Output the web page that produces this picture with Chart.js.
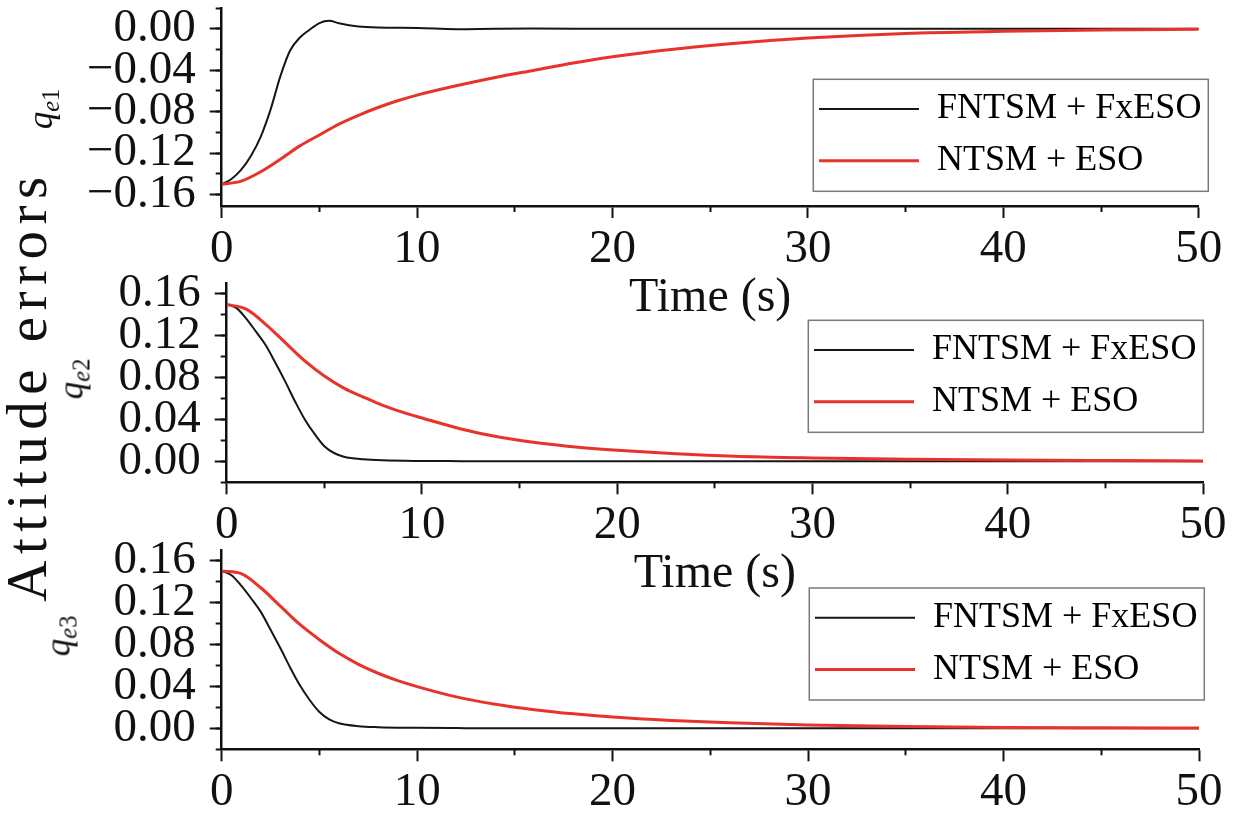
<!DOCTYPE html>
<html>
<head>
<meta charset="utf-8">
<title>Attitude errors</title>
<script src="https://cdn.jsdelivr.net/npm/chart.js@4"></script>
<style>
  html, body { margin: 0; padding: 0; background: #fff; }
  #fig { position: relative; width: 1239px; height: 818px; overflow: hidden; background: #fff; }
  .panel { position: absolute; left: 0; width: 1239px; }
  .vlabel {
    position: absolute; font-family: "Liberation Serif", serif; color: #111;
    white-space: nowrap; line-height: 1;
    transform: translate(-50%, -50%) rotate(-90deg);
  }
  .q sub { font-size: 70%; vertical-align: baseline; position: relative; top: 0.3em; }
</style>
</head>
<body>
<div id="fig">
  <div class="panel" style="top:0;height:327px"><canvas id="c1"></canvas></div>
  <div class="panel" style="top:270px;height:333.3px"><canvas id="c2"></canvas></div>
  <div class="panel" style="top:540px;height:278px"><canvas id="c3"></canvas></div>

  <div class="vlabel" style="left:26px;top:386px;font-size:57px;letter-spacing:6.5px">Attitude errors</div>
  <div class="vlabel q" style="left:40px;top:109px;font-size:35px"><i>q</i><sub><i>e</i>1</sub></div>
  <div class="vlabel q" style="left:71px;top:379px;font-size:35px"><i>q</i><sub><i>e</i>2</sub></div>
  <div class="vlabel q" style="left:58px;top:636px;font-size:35px"><i>q</i><sub><i>e</i>3</sub></div>
</div>

<script>
// time samples (s)
const timeBlack = [0, 0.5, 1, 1.5, 2, 2.5, 3, 3.5, 4, 4.5, 5, 5.5, 6, 7, 8, 10, 12, 14, 16, 20, 25, 30, 35, 40, 45, 50];
const timeRed = [0, 1, 2, 3, 4, 5, 6, 7, 8, 9, 10, 12, 14, 16, 18, 20, 23, 26, 30, 35, 40, 45, 50];

const seriesLabels = ['FNTSM + FxESO', 'NTSM + ESO'];

// q_e1
const qe1Fntsm = [-0.150, -0.145, -0.136, -0.1225, -0.104, -0.078, -0.046, -0.021, -0.0085, -0.001, 0.0055, 0.0078, 0.0053,
  0.0022, 0.0012, 0.0008, -0.0004, 0, 0.0002, 0, 0, 0, 0, 0, 0, 0];
const qe1Ntsm = [-0.150, -0.147, -0.138, -0.126, -0.113, -0.1025, -0.092, -0.0835, -0.076, -0.0695, -0.064, -0.055,
  -0.047, -0.040, -0.033, -0.027, -0.020, -0.0145, -0.009, -0.0045, -0.0025, -0.0012, -0.0006];

// q_e2
const qe2Fntsm = [0.150, 0.1465, 0.1365, 0.124, 0.111, 0.094, 0.0762, 0.0573, 0.040, 0.0262, 0.0145, 0.008, 0.0045,
  0.002, 0.001, 0.0004, 0.0002, 0, 0, 0, 0, 0, 0, 0, 0, 0];
const qe2Ntsm = [0.150, 0.1455, 0.131, 0.1135, 0.096, 0.0815, 0.070, 0.0615, 0.0535, 0.047, 0.0415, 0.031,
  0.023, 0.0175, 0.0135, 0.0106, 0.0073, 0.0049, 0.0033, 0.0021, 0.0013, 0.0008, 0.0004];

// q_e3
const qe3Fntsm = [0.150, 0.146, 0.136, 0.124, 0.111, 0.094, 0.0765, 0.058, 0.041, 0.027, 0.0155, 0.0085, 0.0048,
  0.002, 0.0011, 0.0005, 0.0002, 0, 0, 0, 0, 0, 0, 0, 0, 0];
const qe3Ntsm = [0.150, 0.1475, 0.134, 0.1165, 0.099, 0.0845, 0.0715, 0.061, 0.0525, 0.0455, 0.0398, 0.030,
  0.023, 0.0178, 0.0138, 0.0107, 0.0075, 0.0052, 0.0032, 0.0017, 0.0009, 0.0005, 0.0002];

// ticks
const xMajor = [0, 10, 20, 30, 40, 50];
const xMinor = [5, 15, 25, 35, 45];
const yMajorNeg = [-0.16, -0.12, -0.08, -0.04, 0];
const yMinorNeg = [-0.16, -0.14, -0.12, -0.10, -0.08, -0.06, -0.04, -0.02, 0, 0.02];
const yMajorPos = [0, 0.04, 0.08, 0.12, 0.16];
const yMinorPos = [-0.02, 0, 0.02, 0.04, 0.06, 0.08, 0.10, 0.12, 0.14, 0.16];

const INK = '#111';
const BLACK = '#161616';
const RED = '#e8332b';
const SERIF = '"Liberation Serif", "Times New Roman", serif';

// per panel layout
const panels = [
  { id: 'c1', fntsm: qe1Fntsm, ntsm: qe1Ntsm, yMin: -0.171, yMax: 0.02, yMajor: yMajorNeg, yMinor: yMinorNeg,
    xTitle: true, top: 8, right: 40.3, yWidth: 221.7, xHeight: 121, legend: { dx: -395.4, dy: 67.3 } },
  { id: 'c2', fntsm: qe2Fntsm, ntsm: qe2Ntsm, yMin: -0.02, yMax: 0.17, yMajor: yMajorPos, yMinor: yMinorPos,
    xTitle: true, top: 13.5, right: 36, yWidth: 226.7, xHeight: 121, legend: { dx: -404.7, dy: 32.8 } },
  { id: 'c3', fntsm: qe3Fntsm, ntsm: qe3Ntsm, yMin: -0.02, yMax: 0.17, yMajor: yMajorPos, yMinor: yMinorPos,
    xTitle: false, top: 10, right: 40, yWidth: 221.7, xHeight: 68.7, legend: { dx: -399.7, dy: 34 } }
];

function fmtY(v) {
  if (Math.abs(v) < 1e-9) return '0.00';
  return (v < 0 ? '\u2212' : '') + Math.abs(v).toFixed(2);
}

// moves the legend into the plot and draws its frame
const legendPlace = {
  id: 'legendPlace',
  afterLayout(chart, args, opts) {
    const lg = chart.legend, ca = chart.chartArea;
    lg.left = ca.right + opts.dx;
    lg.top = ca.top + opts.dy;
    lg.right = lg.left + 420;
    lg.bottom = lg.top + 200;
  },
  afterDraw(chart, args, opts) {
    const lg = chart.legend, c = chart.ctx;
    c.save();
    c.strokeStyle = '#7a7a7a';
    c.lineWidth = 1.5;
    c.strokeRect(lg.left + 10, lg.top + 4, 395, 112);
    c.restore();
  }
};

function tickGrid(len) {
  return { display: true, drawOnChartArea: false, drawTicks: true, tickLength: len, tickWidth: 2, tickColor: INK };
}

function buildChart(p) {
  const tickFont = { family: SERIF, size: 47, lineHeight: 1 };
  return new Chart(document.getElementById(p.id), {
    type: 'line',
    data: {
      datasets: [
        { label: seriesLabels[0], data: timeBlack.map((t, i) => ({ x: t, y: p.fntsm[i] })),
          borderColor: BLACK, backgroundColor: BLACK, borderWidth: 2, order: 1, xAxisID: 'x', yAxisID: 'y' },
        { label: seriesLabels[1], data: timeRed.map((t, i) => ({ x: t, y: p.ntsm[i] })),
          borderColor: RED, backgroundColor: RED, borderWidth: 3, order: 0, xAxisID: 'x', yAxisID: 'y' }
      ]
    },
    options: {
      responsive: true,
      maintainAspectRatio: false,
      animation: false,
      layout: { padding: { left: 0, right: p.right, top: p.top, bottom: 0 }, autoPadding: false },
      elements: { point: { radius: 0 }, line: { cubicInterpolationMode: 'monotone' } },
      scales: {
        x: {
          type: 'linear', axis: 'x', position: 'bottom', min: 0, max: 50, weight: 1,
          afterBuildTicks: s => { s.ticks = xMajor.map(v => ({ value: v })); },
          afterFit: s => { s.height = p.xHeight; s.paddingLeft = 0; s.paddingRight = 0; },
          grid: tickGrid(12),
          border: { display: true, color: INK, width: 2.5 },
          ticks: { autoSkip: false, maxRotation: 0, padding: 8, color: INK, font: tickFont, callback: v => String(v) },
          title: { display: p.xTitle, text: 'Time (s)', color: INK, padding: 0,
                   font: { family: SERIF, size: 48, lineHeight: 1.2 } }
        },
        xm: {
          type: 'linear', axis: 'x', position: 'bottom', min: 0, max: 50, weight: 0,
          afterBuildTicks: s => { s.ticks = xMinor.map(v => ({ value: v })); },
          afterFit: s => { s.height = 0; s.paddingLeft = 0; s.paddingRight = 0; },
          grid: tickGrid(6),
          border: { display: false },
          ticks: { display: false }
        },
        y: {
          type: 'linear', axis: 'y', position: 'left', min: p.yMin, max: p.yMax, weight: 1,
          afterBuildTicks: s => { s.ticks = p.yMajor.map(v => ({ value: v })); },
          afterFit: s => { s.width = p.yWidth; s.paddingTop = 0; s.paddingBottom = 0; },
          grid: tickGrid(12),
          border: { display: true, color: INK, width: 2.5 },
          ticks: { autoSkip: false, padding: 14, color: INK, font: tickFont, callback: fmtY }
        },
        ym: {
          type: 'linear', axis: 'y', position: 'left', min: p.yMin, max: p.yMax, weight: 0,
          afterBuildTicks: s => { s.ticks = p.yMinor.map(v => ({ value: v })); },
          afterFit: s => { s.width = 0; s.paddingTop = 0; s.paddingBottom = 0; },
          grid: tickGrid(6),
          border: { display: false },
          ticks: { display: false }
        }
      },
      plugins: {
        tooltip: { enabled: false },
        legend: {
          position: 'chartArea',
          align: 'start',
          labels: {
            font: { family: SERIF, size: 36 },
            color: INK,
            boxWidth: 100,
            boxHeight: 0,
            padding: 15.7,
            generateLabels: chart => chart.data.datasets.map((d, i) => ({
              text: d.label, fillStyle: d.borderColor, strokeStyle: d.borderColor,
              lineWidth: d.borderWidth, lineCap: 'butt', hidden: false, datasetIndex: i
            }))
          }
        },
        legendPlace: p.legend
      }
    },
    plugins: [legendPlace]
  });
}

panels.forEach(buildChart);
</script>
</body>
</html>
